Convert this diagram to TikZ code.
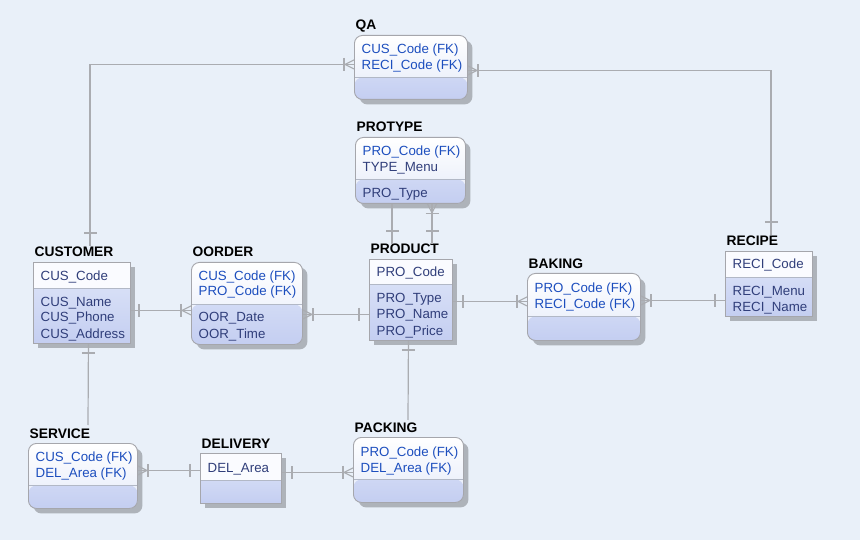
\documentclass[tikz,border=0pt]{standalone}
\usepackage{fontspec}
\setmainfont{Liberation Sans}
\usetikzlibrary{shadows}
\definecolor{bg}{RGB}{233,240,249}
\definecolor{boxgray}{RGB}{165,166,172}
\definecolor{divgray}{RGB}{178,184,198}
\definecolor{linegray}{RGB}{170,172,177}
\definecolor{headfill}{RGB}{250,251,255}
\definecolor{headbot}{RGB}{228,234,249}
\definecolor{bodytop}{RGB}{224,231,249}
\definecolor{bodybot}{RGB}{196,206,241}
\definecolor{fkblue}{RGB}{28,78,190}
\definecolor{attblue}{RGB}{48,62,122}
\begin{document}
\begin{tikzpicture}[x=1pt, y=-1pt,
  every node/.style={font=\fontsize{13.3}{16}\selectfont, inner sep=0pt},
  rel/.style={draw=linegray, line width=1.2pt},
  ent/.style={draw=boxgray, line width=0.9pt, anchor=north west,
    drop shadow={shadow xshift=5pt, shadow yshift=-5pt, fill=black, opacity=0.25}},
  sqent/.style={ent, fill=headfill},
  rdent/.style={ent, rounded corners=8pt, top color=white, bottom color=headbot},
  body/.style={path picture={
    \shade[top color=bodytop, bottom color=bodybot] ([yshift=-#1]path picture bounding box.north west) rectangle (path picture bounding box.south east);
    \draw[divgray, line width=0.9pt] ([yshift=-#1]path picture bounding box.north west) -- ([yshift=-#1]path picture bounding box.north east);}},
  title/.style={font=\bfseries\fontsize{13.8}{16}\selectfont, anchor=base west},
  fk/.style={text=fkblue, anchor=base west},
  att/.style={text=attblue, anchor=base west},
  pics/crowbar/.style={code={
    \draw[rel] (0,-4.5) -- (-9,0) -- (0,4.5);
    \draw[rel] (-10,-6.5) -- (-10,6.5);}},
  pics/onebar/.style={code={\draw[rel] (-#1,-6.5) -- (-#1,6.5);}},
  pics/onebar/.default=10]
\fill[bg] (0,0) rectangle (860,540);

% entities
\node[rdent, body=42pt, minimum width=113pt, minimum height=64pt] (qa) at (354,35) {};
\node[title] (qa-t) at (355.5,30) {QA};
\node[fk] (qa-1) at (361.5,54) {CUS\_Code (FK)};
\node[fk] (qa-2) at (361.5,70) {RECI\_Code (FK)};

\node[rdent, body=42pt, minimum width=110pt, minimum height=66pt] (protype) at (355,137) {};
\node[title] (protype-t) at (356.5,132) {PROTYPE};
\node[fk] (protype-1) at (362.5,156) {PRO\_Code (FK)};
\node[att] (protype-2) at (362.5,172) {TYPE\_Menu};
\node[att] (protype-3) at (362.5,198) {PRO\_Type};

\node[sqent, body=26pt, minimum width=97pt, minimum height=81pt] (customer) at (33,262) {};
\node[title] (customer-t) at (34.5,257) {CUSTOMER};
\node[att] (customer-1) at (40.5,280) {CUS\_Code};
\node[att] (customer-2) at (40.5,306) {CUS\_Name};
\node[att] (customer-3) at (40.5,322) {CUS\_Phone};
\node[att] (customer-4) at (40.5,338) {CUS\_Address};

\node[rdent, body=42pt, minimum width=111pt, minimum height=82pt] (oorder) at (191,262) {};
\node[title] (oorder-t) at (192.5,257) {OORDER};
\node[fk] (oorder-1) at (198.5,280) {CUS\_Code (FK)};
\node[fk] (oorder-2) at (198.5,296) {PRO\_Code (FK)};
\node[att] (oorder-3) at (198.5,322) {OOR\_Date};
\node[att] (oorder-4) at (198.5,338) {OOR\_Time};

\node[sqent, body=25pt, minimum width=83pt, minimum height=81pt] (product) at (369,259) {};
\node[title] (product-t) at (370.5,254) {PRODUCT};
\node[att] (product-1) at (376.5,277) {PRO\_Code};
\node[att] (product-2) at (376.5,303) {PRO\_Type};
\node[att] (product-3) at (376.5,319) {PRO\_Name};
\node[att] (product-4) at (376.5,335) {PRO\_Price};

\node[rdent, body=43pt, minimum width=113pt, minimum height=67pt] (baking) at (527,273) {};
\node[title] (baking-t) at (528.5,268.5) {BAKING};
\node[fk] (baking-1) at (534.5,292.5) {PRO\_Code (FK)};
\node[fk] (baking-2) at (534.5,308.5) {RECI\_Code (FK)};

\node[sqent, body=26pt, minimum width=87pt, minimum height=65pt] (recipe) at (725,251) {};
\node[title] (recipe-t) at (726.5,246) {RECIPE};
\node[att] (recipe-1) at (732.5,269) {RECI\_Code};
\node[att] (recipe-2) at (732.5,295.5) {RECI\_Menu};
\node[att] (recipe-3) at (732.5,311.5) {RECI\_Name};

\node[rdent, body=42pt, minimum width=109pt, minimum height=65pt] (service) at (28,443) {};
\node[title] (service-t) at (29.5,438) {SERVICE};
\node[fk] (service-1) at (35.5,461.5) {CUS\_Code (FK)};
\node[fk] (service-2) at (35.5,477.5) {DEL\_Area (FK)};

\node[sqent, body=27pt, minimum width=81pt, minimum height=50pt] (delivery) at (200,453) {};
\node[title] (delivery-t) at (201.5,448) {DELIVERY};
\node[att] (delivery-1) at (207.5,472) {DEL\_Area};

\node[rdent, body=42pt, minimum width=110pt, minimum height=65pt] (packing) at (353,437) {};
\node[title] (packing-t) at (354.5,432) {PACKING};
\node[fk] (packing-1) at (360.5,456) {PRO\_Code (FK)};
\node[fk] (packing-2) at (360.5,472) {DEL\_Area (FK)};

% relationships
\draw[rel] ([xshift=57pt, yshift=16pt]customer.north west) |- ([yshift=3pt]qa.west);
\pic at ([xshift=57pt, yshift=16pt]customer.north west) [rotate=-90] {onebar=13};
\pic at ([yshift=3pt]qa.west) {crowbar};

\draw[rel] ([yshift=-3pt]qa.east) -| ([xshift=46pt, yshift=16pt]recipe.north west);
\pic at ([yshift=-3pt]qa.east) [rotate=180] {crowbar};
\pic at ([xshift=46pt, yshift=16pt]recipe.north west) [rotate=-90] {onebar=13};

\draw[rel] ([xshift=37pt]protype.south west) -- ([xshift=23pt, yshift=15pt]product.north west);
\pic at ([xshift=23pt, yshift=15pt]product.north west) [rotate=-90] {onebar=13};
\draw[rel] ([xshift=77pt]protype.south west) -- ([xshift=63pt, yshift=15pt]product.north west);
\pic at ([xshift=77pt]protype.south west) [rotate=90] {crowbar};
\pic at ([xshift=63pt, yshift=15pt]product.north west) [rotate=-90] {onebar=13};

\draw[rel] ([yshift=-7.5pt]customer.east) -- ([yshift=-7pt]oorder.west);
\pic at ([yshift=-7.5pt]customer.east) [rotate=180] {onebar=8};
\pic at ([yshift=-7pt]oorder.west) {crowbar};

\draw[rel] ([yshift=-11pt]oorder.east) -- ([yshift=-14.5pt]product.west);
\pic at ([yshift=-11pt]oorder.east) [rotate=180] {crowbar};
\pic at ([yshift=-14.5pt]product.west) {onebar};

\draw[rel] ([yshift=-1.5pt]product.east) -- ([yshift=5.5pt]baking.west);
\pic at ([yshift=-1.5pt]product.east) [rotate=180] {onebar};
\pic at ([yshift=5.5pt]baking.west) {crowbar};

\draw[rel] ([yshift=6.5pt]baking.east) -- ([yshift=-16.5pt]recipe.west);
\pic at ([yshift=6.5pt]baking.east) [rotate=180] {crowbar};
\pic at ([yshift=-16.5pt]recipe.west) {onebar};

\draw[rel] ([xshift=-2.5pt]product.south) -- ([xshift=55pt, yshift=17pt]packing.north west);
\pic at ([xshift=-2.5pt]product.south) [rotate=90] {onebar=9};

\draw[rel] ([xshift=6.5pt]customer.south) -- ([xshift=60pt, yshift=18pt]service.north west);
\pic at ([xshift=6.5pt]customer.south) [rotate=90] {onebar=9};

\draw[rel] ([yshift=5.5pt]service.east) -- ([yshift=8pt]delivery.west);
\pic at ([yshift=5.5pt]service.east) [rotate=180] {crowbar};
\pic at ([yshift=8pt]delivery.west) {onebar};

\draw[rel] ([yshift=6pt]delivery.east) -- ([yshift=-2.5pt]packing.west);
\pic at ([yshift=6pt]delivery.east) [rotate=180] {onebar};
\pic at ([yshift=-2.5pt]packing.west) {crowbar};
\end{tikzpicture}
\end{document}
